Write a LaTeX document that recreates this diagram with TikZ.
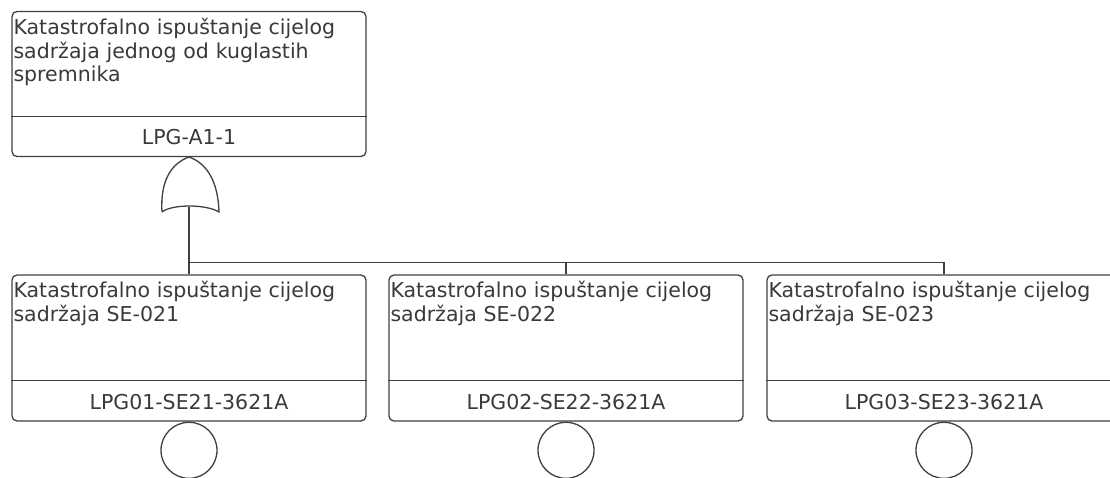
\documentclass[tikz,border=0pt]{standalone}
\usepackage{fontspec}
\setmainfont{DejaVu Sans}
\definecolor{ln}{HTML}{404040}
\definecolor{tx}{HTML}{3A3A3A}
\tikzset{
  evbox/.style={draw=ln, line width=1.3pt, rounded corners=5pt, minimum width=354pt, minimum height=146pt, inner sep=0pt, fill=white},
  desc/.style={anchor=north west, inner sep=0pt, text width=350pt, align=left, text=tx, font=\fontsize{20.5}{23.8}\selectfont},
  idlab/.style={inner sep=0pt, text=tx, font=\fontsize{20.5}{23.8}\selectfont},
  conn/.style={draw=ln, line width=1.3pt},
  basic/.style={circle, draw=ln, line width=1.3pt, minimum size=56pt, inner sep=0pt, anchor=north},
}
\begin{document}
\begin{tikzpicture}[x=1pt,y=-1pt]
\useasboundingbox (0,0) rectangle (1110,477);
\clip (0,0) rectangle (1110,477);
% top event
\node[evbox, minimum height=145pt] (top) at (189,84) {};
\draw[conn] ([yshift=40.5pt]top.south west) -- ([yshift=40.5pt]top.south east);
\node[desc] (topd) at ([xshift=2pt,yshift=-6.5pt]top.north west) {\strut Katastrofalno ispuštanje cijelog\\sadržaja jednog od kuglastih\\spremnika};
\node[idlab] (topl) at ([yshift=20pt]top.south) {LPG-A1-1};
% OR gate
\coordinate (gin) at (189,157);
\coordinate (gout) at (189,206.5);
\draw[conn, fill=white] (162,212) .. controls (160,180) and (172,163) .. (gin) .. controls (206,163) and (218,180) .. (219,212) .. controls (206,204) and (172,204) .. (162,212);
% basic events
\foreach \n/\x/\s/\c in {1/189/SE-021/LPG01-SE21-3621A, 2/566/SE-022/LPG02-SE22-3621A, 3/944/SE-023/LPG03-SE23-3621A}{
  \node[evbox] (e\n) at (\x,348) {};
  \draw[conn] ([yshift=41pt]e\n.south west) -- ([yshift=41pt]e\n.south east);
  \node[desc] (d\n) at ([xshift=2pt,yshift=-6.5pt]e\n.north west) {\strut Katastrofalno ispuštanje cijelog\\sadržaja \s};
  \node[idlab] (l\n) at ([yshift=20pt]e\n.south) {\c};
  \node[basic] (b\n) at (e\n.south) {};
}
% connectors
\coordinate (bus) at (189,262.5);
\draw[conn] (gout) -- (e1.north);
\draw[conn] (bus) -| (e2.north);
\draw[conn] (bus) -| (e3.north);
\end{tikzpicture}
\end{document}
